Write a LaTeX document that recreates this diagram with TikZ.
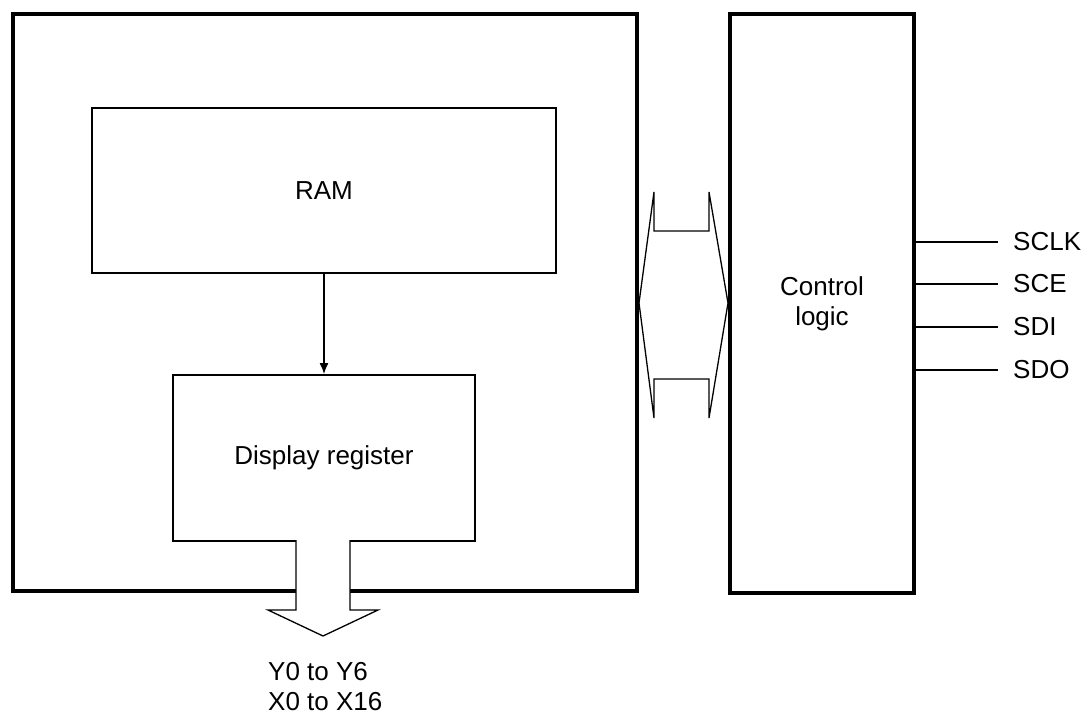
\documentclass[tikz,border=0pt]{standalone}
\usepackage{fontspec}
\setmainfont{Liberation Sans}
\usetikzlibrary{arrows.meta}
\begin{document}
\begin{tikzpicture}[x=1pt,y=-1pt,
  every node/.style={font=\fontsize{26}{30}\selectfont},
  thickbox/.style={draw, line width=4pt, inner sep=0pt, anchor=north west},
  blockbox/.style={draw, line width=2pt, inner sep=0pt, anchor=north west},
  thin/.style={line width=1.3pt},
  pin/.style={anchor=west, inner xsep=15pt, inner ysep=0pt}]
\useasboundingbox (0,0) rectangle (1088,715);
% boxes
\node[thickbox, minimum width=624pt, minimum height=577pt] (outer) at (11,12) {};
\node[thickbox, minimum width=184pt, minimum height=579pt, align=center] (ctrl) at (728,12) {Control\\logic};
\node[blockbox, minimum width=464pt, minimum height=165pt] (ram) at (91,107) {RAM};
\node[blockbox, minimum width=302pt, minimum height=166pt] (disp) at (172,374) {Display register};
% RAM -> display register
\draw[thin, -{Latex[length=11pt,width=9pt]}] (ram.south) -- (disp.north);
% bidirectional block arrow
\draw[thin, fill=white] (outer.east |- 0,303) coordinate (bl) -- (654,192) -- (654,231) -- (709,231) -- (709,192)
  -- (ctrl.west |- bl) -- (709,418) -- (709,379) -- (654,379) -- (654,418) -- cycle;
% output block arrow
\draw[thin, fill=white] (296,540) -- (296,610) -- (268,610) -- (323,636) coordinate (tip) -- (378,610) -- (350,610) -- (350,540);
\node[anchor=north west, inner sep=0pt, align=left] (outtxt) at (268,662) {Y0 to Y6\\X0 to X16};
% pins
\node[pin] (sclk) at (998,242) {SCLK};
\node[pin] (sce) at (998,284) {SCE};
\node[pin] (sdi) at (998,327) {SDI};
\node[pin] (sdo) at (998,370) {SDO};
\foreach \p in {sclk,sce,sdi,sdo}
  \draw[thin] (ctrl.east |- \p.west) -- (\p.west);
\end{tikzpicture}
\end{document}
